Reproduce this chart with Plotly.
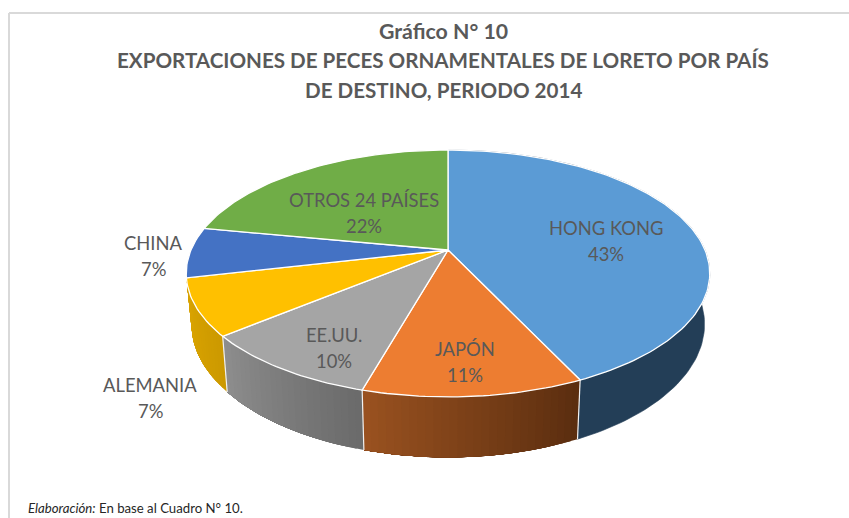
import math
import plotly.graph_objects as go

# ---- data ----
categories = ["HONG KONG", "JAPÓN", "EE.UU.", "ALEMANIA", "CHINA", "OTROS 24 PAÍSES"]
values = [43.0, 11.4, 9.6, 7.4, 6.6, 22.0]
percent_labels = ["43%", "11%", "10%", "7%", "7%", "22%"]
top_colors = ["#5B9BD5", "#ED7D31", "#A5A5A5", "#FFC000", "#4472C4", "#70AD47"]
# wall colours at the start and end of each slice's sweep (clockwise)
wall_start = ["#233E57", "#5A2D0F", "#6A6A6A", "#CC9900"]
wall_end = ["#233E57", "#9A5220", "#8E8E8E", "#DCA600"]
label_xy = [(606, 241), (465, 362), (334, 348), (150, 398), (153, 256), (364, 213)]
title_lines = ["Gráfico N° 10",
               "EXPORTACIONES DE PECES ORNAMENTALES DE LORETO POR PAÍS",
               "DE DESTINO, PERIODO 2014"]
footer = "<i>Elaboración:</i> En base al Cuadro N° 10."

# ---- perspective geometry of the disc ----
CX, CY, A, B, K, DEPTH, SHRINK = 448, 250, 257, 119, 0.19, 49, 0.98


def top_pt(theta):
    u, v = math.sin(theta), -math.cos(theta)
    s = 1 / (1 - K * v)
    return CX + A * u * s, CY + B * v * s


def bottom_pt(theta):
    u, v = math.sin(theta), -math.cos(theta)
    s = 1 / (1 - K * v)
    return CX + SHRINK * A * u * s, CY + B * v * s + DEPTH * s


def mix(c1, c2, t):
    a = [int(c1[i:i + 2], 16) for i in (1, 3, 5)]
    b = [int(c2[i:i + 2], 16) for i in (1, 3, 5)]
    return "#%02X%02X%02X" % tuple(round(p + (q - p) * t) for p, q in zip(a, b))


fig = go.Figure()


def poly(xs, ys, fill, line=None, width=0.0):
    fig.add_trace(go.Scatter(x=xs, y=ys, mode="lines", fill="toself", fillcolor=fill,
                             line=dict(color=line or fill, width=width),
                             hoverinfo="skip", showlegend=False))


total = sum(values)
edges = [0.0]
for val in values:
    edges.append(edges[-1] + val / total * 2 * math.pi)

# walls: only the slices on the front of the disc have one in view
for i in range(len(wall_start)):
    t0, t1 = edges[i], edges[i + 1]
    n = max(4, int((t1 - t0) / 0.025))
    if wall_start[i] == wall_end[i]:
        ths = [t0 + (t1 - t0) * j / n for j in range(n + 1)]
        xs = [top_pt(t)[0] for t in ths] + [bottom_pt(t)[0] for t in reversed(ths)]
        ys = [top_pt(t)[1] for t in ths] + [bottom_pt(t)[1] for t in reversed(ths)]
        poly(xs + xs[:1], ys + ys[:1], wall_start[i], width=0.6)
    else:
        # each strip runs on to the slice's end, the next strip paints over it
        for j in range(n):
            a = t0 + (t1 - t0) * j / n
            ths = [a + (t1 - a) * m / 30 for m in range(31)]
            xs = [top_pt(t)[0] for t in ths] + [bottom_pt(t)[0] for t in reversed(ths)]
            ys = [top_pt(t)[1] for t in ths] + [bottom_pt(t)[1] for t in reversed(ths)]
            poly(xs + xs[:1], ys + ys[:1], mix(wall_start[i], wall_end[i], (j + 0.5) / n))

# white seams between walls
for i in range(1, len(wall_start)):
    p, q = top_pt(edges[i]), bottom_pt(edges[i])
    fig.add_trace(go.Scatter(x=[p[0], q[0]], y=[p[1], q[1]], mode="lines",
                             line=dict(color="#F2F2F2", width=1.2),
                             hoverinfo="skip", showlegend=False))

# top face
for i in range(len(values)):
    t0, t1 = edges[i], edges[i + 1]
    n = max(8, int((t1 - t0) / 0.02))
    pts = [top_pt(t0 + (t1 - t0) * j / n) for j in range(n + 1)]
    xs = [CX] + [q[0] for q in pts] + [CX]
    ys = [CY] + [q[1] for q in pts] + [CY]
    poly(xs, ys, top_colors[i], line="#FFFFFF", width=1.3)

annotations = []


def note(x, y, text, size, color="#595959", bold=False, xanchor="center"):
    annotations.append(dict(x=x, y=y, xref="x", yref="y", text=f"<b>{text}</b>" if bold else text,
                            showarrow=False, xanchor=xanchor, yanchor="middle",
                            font=dict(family="Lato", size=size, color=color)))


# labels
for name, pct, (lx, ly) in zip(categories, percent_labels, label_xy):
    note(lx, ly - 13, name, 18.4)
    note(lx, ly + 13, pct, 18.4)

for line, y, size in zip(title_lines, [31, 60, 90], [21.3, 20.6, 20.6]):
    note(443, y, line, size, bold=True)
note(26, 508, footer, 13.2, color="#262626", xanchor="left")

# outer frame, open to the right and bottom
frame = dict(type="line", xref="x", yref="y", line=dict(color="#D9D9D9", width=2))
shapes = [dict(frame, x0=9, y0=13, x1=849, y1=13), dict(frame, x0=9, y0=13, x1=9, y1=518)]

fig.update_layout(width=849, height=518, margin=dict(l=0, r=0, t=0, b=0),
                  paper_bgcolor="white", plot_bgcolor="white", showlegend=False,
                  xaxis=dict(range=[0, 849], visible=False, fixedrange=True),
                  yaxis=dict(range=[518, 0], visible=False, fixedrange=True),
                  annotations=annotations, shapes=shapes)

fig.write_html("out.html", config={"displayModeBar": False},
               post_script="document.body.style.margin='0';")
